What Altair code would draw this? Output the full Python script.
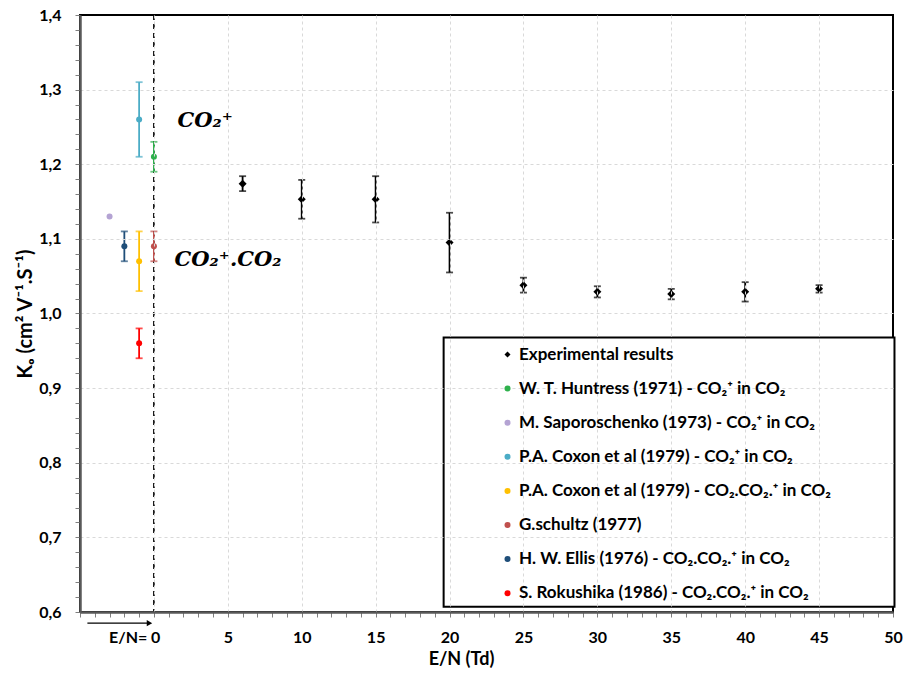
import altair as alt
import pandas as pd

# ---------------- data ----------------
series_names = [
    "Experimental results",
    "W. T. Huntress (1971) - CO₂⁺ in CO₂",
    "M. Saporoschenko (1973) - CO₂⁺ in CO₂",
    "P.A. Coxon et al (1979) - CO₂⁺ in CO₂",
    "P.A. Coxon et al (1979) - CO₂.CO₂.⁺ in CO₂",
    "G.schultz (1977)",
    "H. W. Ellis (1976) -  CO₂.CO₂.⁺ in CO₂",
    "S. Rokushika (1986) - CO₂.CO₂.⁺ in CO₂",
]
series_colors = ["#000000", "#2fb14d", "#b4a3d3", "#4bacc6", "#ffc000",
                 "#c0504d", "#1f4e79", "#ff0000"]
series_shapes = ["diamond"] + ["circle"] * 7

exp_en = [6, 10, 15, 20, 25, 30, 35, 40, 45]
exp_k0 = [1.174, 1.153, 1.153, 1.095, 1.038, 1.029, 1.026, 1.029, 1.033]
exp_err = [0.010, 0.026, 0.031, 0.040, 0.010, 0.0075, 0.007, 0.013, 0.005]

lit_en = [0, -3, -1, -1, 0, -2, -1]
lit_k0 = [1.21, 1.13, 1.26, 1.07, 1.09, 1.09, 0.96]
lit_err = [0.02, None, 0.05, 0.04, 0.02, 0.02, 0.02]

ann_text = ["CO₂⁺", "CO₂⁺.CO₂"]
ann_en = [1.6, 1.4]
ann_k0 = [1.258, 1.072]

x_ticks = list(range(-5, 51))
y_ticks = [round(0.6 + 0.02 * i, 2) for i in range(41)]

legend_box_en = [19.6, 50.1]
legend_box_k0 = [0.607, 0.968]

# ---------------- tables ----------------
rows = []
for x, y, e in zip(exp_en, exp_k0, exp_err):
    rows.append({"series": series_names[0], "x": x, "y": y,
                 "lo": y - e, "hi": y + e})
for s, x, y, e in zip(series_names[1:], lit_en, lit_k0, lit_err):
    rows.append({"series": s, "x": x, "y": y,
                 "lo": None if e is None else y - e,
                 "hi": None if e is None else y + e})
df = pd.DataFrame(rows)
df_err = df.dropna(subset=["lo"])
df_exp = df[df["series"] == series_names[0]]
df_lit = df[df["series"] != series_names[0]]

ann = pd.DataFrame({"t": ann_text, "x": ann_en, "y": ann_k0})
box = pd.DataFrame({"x": [legend_box_en[0]], "x2": [legend_box_en[1]],
                    "y": [legend_box_k0[0]], "y2": [legend_box_k0[1]]})

xscale = alt.Scale(domain=[-5, 50], nice=False, zero=False)
yscale = alt.Scale(domain=[0.6, 1.4], nice=False, zero=False)

x_axis = alt.Axis(
    values=x_ticks,
    title="E/N (Td)",
    labelExpr="datum.value === 0 ? 'E/N= 0' : ((datum.value > 0 && datum.value % 5 === 0) ? datum.label : '')",
    labelAlign={"condition": {"test": "datum.value === 0", "value": "right"}, "value": "center"},
    labelOffset={"condition": {"test": "datum.value === 0", "value": 6}, "value": 0},
    gridOpacity={"condition": {"test": "datum.value % 5 === 0 && datum.value > -5 && datum.value < 50",
                               "value": 1}, "value": 0},
    labelPadding=12,
    titlePadding=5,
    titleX=381,
    zindex=1,
)
y_axis = alt.Axis(
    values=y_ticks,
    title="Kₒ (cm² V⁻¹.S⁻¹)",
    labelExpr="round(datum.value * 50) % 5 === 0 ? replace(format(datum.value, '.1f'), '.', ',') : ''",
    gridOpacity={"condition": {"test": "round(datum.value * 50) % 5 === 0 && datum.value > 0.61 && datum.value < 1.39",
                               "value": 1}, "value": 0},
    labelPadding=14,
    titlePadding=3,
    titleFontSize=20,
    zindex=1,
)

X = alt.X("x:Q", scale=xscale, axis=x_axis)
Y = alt.Y("y:Q", scale=yscale, axis=y_axis)

legend = alt.Legend(orient="none", legendX=419, legendY=331, title=None, zindex=2)
color_enc = alt.Color("series:N", scale=alt.Scale(domain=series_names, range=series_colors),
                      sort=series_names, legend=legend)
shape_enc = alt.Shape("series:N", scale=alt.Scale(domain=series_names, range=series_shapes),
                      sort=series_names, legend=legend)

zero_line = alt.Chart(pd.DataFrame({"x": [0]})).mark_rule(
    color="black", strokeDash=[5, 4], strokeWidth=1.6
).encode(x=alt.X("x:Q", scale=xscale, axis=x_axis))

box_layer = alt.Chart(box).mark_rect(fill="white", stroke="black", strokeWidth=2).encode(
    x=alt.X("x:Q", scale=xscale, axis=x_axis), x2="x2:Q",
    y=alt.Y("y:Q", scale=yscale, axis=y_axis), y2="y2:Q")

err_rule = alt.Chart(df_err).mark_rule(strokeWidth=1.8).encode(
    x=X, y=alt.Y("lo:Q", scale=yscale, axis=y_axis), y2="hi:Q", color=color_enc)
err_cap_lo = alt.Chart(df_err).mark_tick(orient="horizontal", size=7, thickness=1.8).encode(
    x=X, y=alt.Y("lo:Q", scale=yscale, axis=y_axis), color=color_enc)
err_cap_hi = alt.Chart(df_err).mark_tick(orient="horizontal", size=7, thickness=1.8).encode(
    x=X, y=alt.Y("hi:Q", scale=yscale, axis=y_axis), color=color_enc)

pts_lit = alt.Chart(df_lit).mark_point(filled=True, opacity=1, size=36).encode(
    x=X, y=Y, color=color_enc, shape=shape_enc)
pts_exp = alt.Chart(df_exp).mark_point(filled=True, opacity=1, size=64).encode(
    x=X, y=Y, color=color_enc, shape=shape_enc)

texts = alt.Chart(ann).mark_text(
    font="DejaVu Serif", fontStyle="italic", fontWeight="bold", fontSize=21,
    align="left", baseline="middle", color="black"
).encode(x=X, y=Y, text="t:N")

arrow_df = pd.DataFrame({"x": [-4.5], "x2": [-0.3], "y": [0.585]})
arrow_line = alt.Chart(arrow_df).mark_rule(color="black", strokeWidth=1.3).encode(
    x=alt.X("x:Q", scale=xscale, axis=x_axis), x2="x2:Q",
    y=alt.Y("y:Q", scale=yscale, axis=y_axis))
arrow_head = alt.Chart(arrow_df).mark_point(shape="triangle-right", filled=True, size=40,
                                            color="black", opacity=1).encode(
    x=alt.X("x2:Q", scale=xscale, axis=x_axis),
    y=alt.Y("y:Q", scale=yscale, axis=y_axis))

chart = alt.layer(
    zero_line, box_layer, pts_exp, pts_lit, err_rule, err_cap_lo, err_cap_hi, texts,
    arrow_line, arrow_head
).properties(
    width=813, height=597,
    autosize=alt.AutoSizeParams(type="none"),
    padding={"left": 80, "top": 15, "right": 12, "bottom": 68},
    background="white",
).configure_view(
    stroke="black", strokeWidth=2
).configure_axis(
    domainColor="#595959", domainWidth=2.5,
    tickColor="#7f7f7f", tickSize=5, tickWidth=1,
    labelFont="Lato", labelFontWeight="bold", labelFontSize=16, labelColor="black",
    titleFont="Lato", titleFontWeight="bold", titleFontSize=18, titleColor="black",
    gridColor="#d9d9d9", gridDash=[3, 3], gridWidth=1,
).configure_legend(
    labelFont="Lato", labelFontWeight="bold", labelFontSize=17, labelColor="black",
    symbolSize=36, symbolStrokeWidth=0, rowPadding=16.1, labelLimit=600,
    padding=0, labelOffset=3,
)

chart.save("out.html", embed_options={"renderer": "svg", "actions": False})
